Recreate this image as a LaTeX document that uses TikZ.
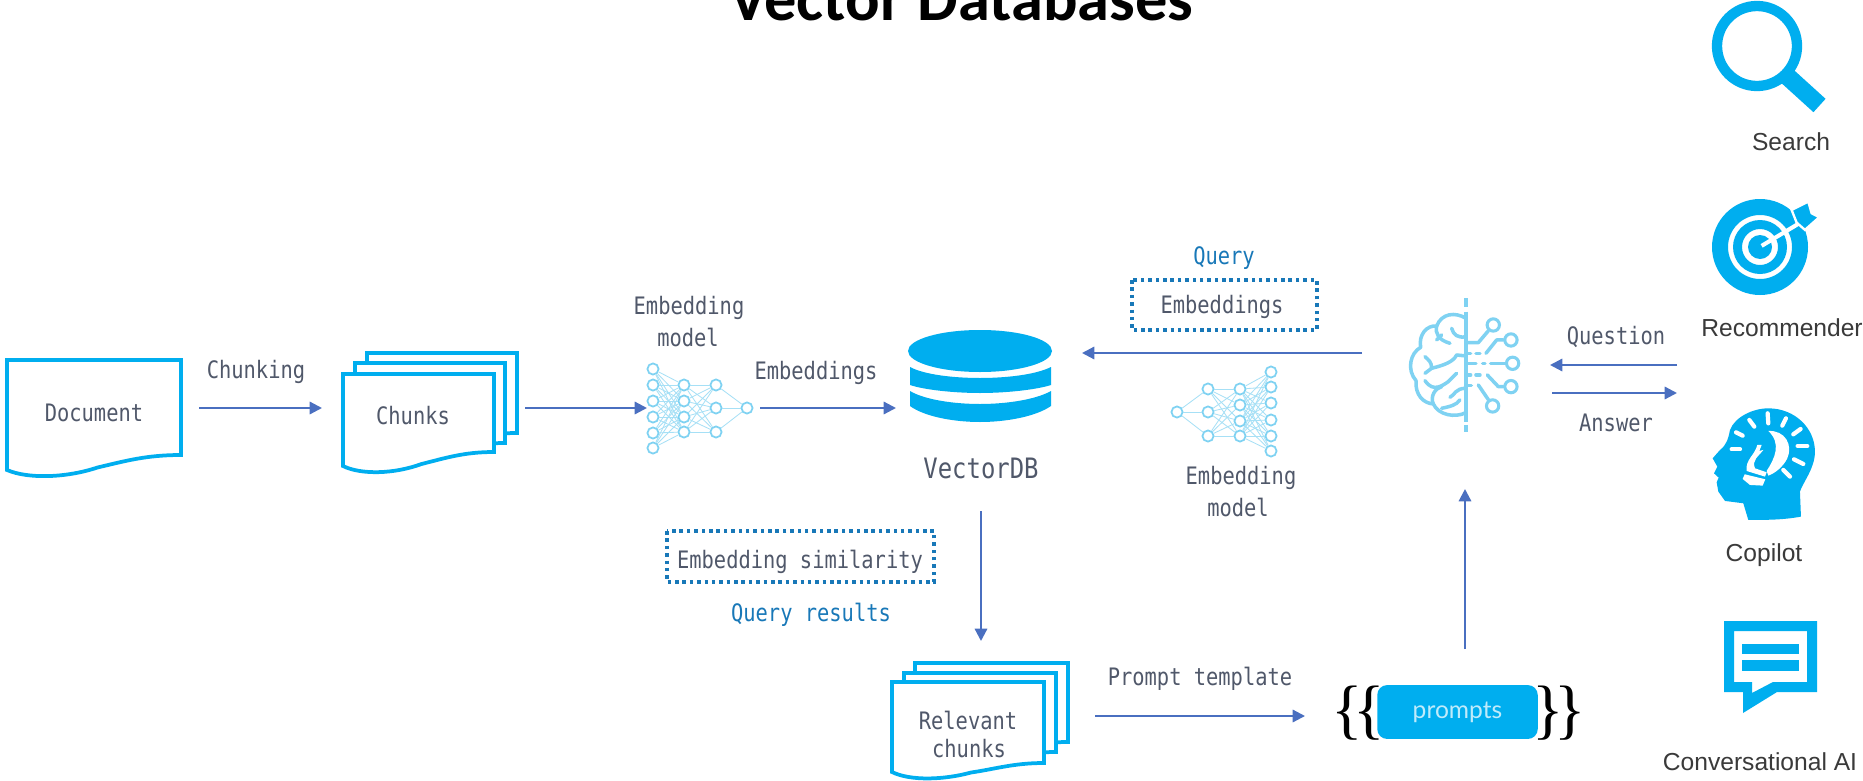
\documentclass[tikz,border=0pt]{standalone}
\usepackage{fontspec}
\usetikzlibrary{arrows.meta}
\setmainfont{Liberation Sans}
\newfontfamily\monof[FakeStretch=0.85]{DejaVu Sans Mono}
\newfontfamily\titlef{Carlito}
\newfontfamily\latof{Lato}
\newfontfamily\bracef{Liberation Serif}
\definecolor{cy}{HTML}{00AEEF}
\definecolor{cyl}{HTML}{7FD2F2}
\definecolor{cye}{HTML}{A6E0F6}
\definecolor{flow}{HTML}{4A6FC0}
\definecolor{qb}{HTML}{1878B8}
\definecolor{txt}{HTML}{50586A}
\definecolor{lab}{HTML}{3A3A3A}
\newcommand{\wavedoc}[5]{% left right top rightbottom leftbottom
  \path[docline] (#1,#3) -- (#2,#3) -- (#2,#4)
    .. controls ({#1+.80*(#2-#1)},#4) and ({#1+.68*(#2-#1)},{#4+6}) .. ({#1+.52*(#2-#1)},{(#4+#5)/2+5})
    .. controls ({#1+.34*(#2-#1)},{#5+8}) and ({#1+.12*(#2-#1)},{#5+9}) .. (#1,#5) -- cycle;}
\tikzset{
  docline/.style={draw=cy,fill=white,line width=3.2pt,line join=miter},
  mono/.style={inner sep=0pt,text=txt,font=\monof\fontsize{20.5}{24}\selectfont},
  qlabel/.style={inner sep=0pt,text=qb,font=\monof\fontsize{20.5}{24}\selectfont},
  applabel/.style={inner sep=0pt,text=lab,font=\fontsize{21}{25}\selectfont},
  flowline/.style={draw=flow,line width=1.9pt,-{Triangle[length=10.5pt,width=10.5pt]}},
  dotbox/.style={draw=qb,line width=3pt,dash pattern=on 3pt off 3.3pt},
  nn/.style={circle,draw=cyl,fill=white,line width=1.5pt,minimum size=9.5pt,inner sep=0pt},
  brainnode/.style={nn,line width=2.6pt,minimum size=10.5pt},
  nnedge/.style={draw=cye,line width=.7pt},
  brainline/.style={draw=cyl,line width=3pt,line cap=round,line join=round},
  icon/.style={fill=cy,draw=none},
}
\begin{document}
\begin{tikzpicture}[x=0.03cm,y=-0.03cm]
\useasboundingbox (0,0) rectangle (1863,781);
\fill[white] (0,0) rectangle (1863,781);
\node[anchor=base,inner sep=0pt,font=\titlef\bfseries\fontsize{55}{60}\selectfont,text=black] (title) at (961.5,20) {Vector Databases};

% Document
\wavedoc{7}{181}{360}{455}{470}
\node[mono] (document) at (94,413) {Document};
% Chunks
\wavedoc{367}{517}{353}{433}{433}
\wavedoc{355}{505}{363}{443}{443}
\wavedoc{343}{494}{374}{452}{466}
\node[mono] (chunks) at (413,416) {Chunks};
\node[mono] (chunking) at (256,372) {Chunking};
\coordinate (docout) at (199,408);
\coordinate (chkin) at (322,408);
\coordinate (chkout) at (525,408);
\coordinate (nn1in) at (647,408);

% Embedding model left
\foreach \n/\y in {1/369,2/385,3/401,4/417,5/433,6/448} \node[nn] (a\n) at (653,\y) {};
\foreach \n/\y in {1/385,2/401,3/417,4/432} \node[nn] (b\n) at (684,\y) {};
\foreach \n/\y in {1/385,2/408,3/432} \node[nn] (c\n) at (716,\y) {};
\node[nn] (d1) at (747,408) {};
\foreach \i in {1,...,6} \foreach \j in {1,...,4} \draw[nnedge] (a\i) -- (b\j);
\foreach \i in {1,...,4} \foreach \j in {1,...,3} \draw[nnedge] (b\i) -- (c\j);
\foreach \j in {1,...,3} \draw[nnedge] (c\j) -- (d1);
\node[mono,align=center] (em1a) at (689,308) {Embedding};
\node[mono] (em1b) at (688,337) {model};
\node[mono] (embs) at (816,373) {Embeddings};
\coordinate (nn1out) at (760,408);
\coordinate (dbin) at (896,408);

% VectorDB
\path[icon] (908,351) arc[x radius=72,y radius=21,start angle=180,end angle=-180];
\path[icon] (910,367) .. controls (925,375) and (955,378) .. (980,378) .. controls (1005,378) and (1035,375) .. (1051,367)
  -- (1051,385) .. controls (1035,390) and (1005,393) .. (980,393) .. controls (955,393) and (925,390) .. (910,385) -- cycle;
\path[icon] (910,391) .. controls (925,400) and (955,404) .. (980,404) .. controls (1005,404) and (1035,400) .. (1051,391)
  -- (1051,406) .. controls (1035,417) and (1005,422) .. (980,422) .. controls (955,422) and (925,417) .. (910,406) -- cycle;
\node[inner sep=0pt,text=txt,font=\monof\fontsize{24}{28}\selectfont] (vdb) at (981,468) {VectorDB};
\coordinate (dbeast) at (1082,353);
\coordinate (dbsouth) at (981,511);

% Query
\node[qlabel] (query) at (1224,258) {Query};
\draw[dotbox] (1132,280) rectangle (1317,330);
\node[mono] (qemb) at (1222,307) {Embeddings};
\coordinate (brainw) at (1362,353);

% Embedding model right
\node[nn] (p1) at (1177,412) {};
\foreach \n/\y in {1/389,2/412,3/436} \node[nn] (q\n) at (1208,\y) {};
\foreach \n/\y in {1/389,2/405,3/421,4/436} \node[nn] (r\n) at (1240,\y) {};
\foreach \n/\y in {1/372,2/387,3/403,4/420,5/436,6/451} \node[nn] (s\n) at (1271,\y) {};
\foreach \j in {1,...,3} \draw[nnedge] (p1) -- (q\j);
\foreach \i in {1,...,3} \foreach \j in {1,...,4} \draw[nnedge] (q\i) -- (r\j);
\foreach \i in {1,...,4} \foreach \j in {1,...,6} \draw[nnedge] (r\i) -- (s\j);
\node[mono] (em2a) at (1241,478) {Embedding};
\node[mono] (em2b) at (1238,507) {model};

% Brain
\begin{scope}[shift={(1400,290)},x=0.01cm,y=-0.01cm]
  \draw[brainline,line cap=butt] (198,25) -- (198,50) (198,65) -- (198,395) (198,405) -- (198,425);
  \draw[brainline] (198,85) .. controls (165,65) and (125,70) .. (110,108) .. controls (80,105) and (55,135) .. (62,172)
    .. controls (30,190) and (20,240) .. (48,272) .. controls (45,315) and (70,340) .. (100,342)
    .. controls (115,375) and (165,385) .. (198,368);
  \draw[brainline] (110,108) .. controls (105,130) and (115,150) .. (150,160);
  \draw[brainline] (155,115) .. controls (160,135) and (175,145) .. (198,140);
  \draw[brainline] (110,150) -- (125,135);
  \draw[brainline] (75,200) .. controls (85,210) and (95,215) .. (95,235) -- (75,250);
  \draw[brainline] (95,235) .. controls (135,225) and (160,215) .. (170,195) -- (198,198);
  \draw[brainline] (75,272) .. controls (100,310) and (130,285) .. (145,275) -- (170,250);
  \draw[brainline] (100,342) .. controls (90,320) and (105,295) .. (125,290);
  \draw[brainline] (150,322) .. controls (165,315) and (165,295) .. (198,295);
  \draw[brainline] (125,355) .. controls (150,350) and (170,345) .. (180,330);
  \node[brainnode] (bn1) at (280,105) {};
  \node[brainnode] (bn2) at (333,150) {};
  \node[brainnode] (bn3) at (338,220) {};
  \node[brainnode] (bn4) at (333,290) {};
  \node[brainnode] (bn5) at (278,348) {};
  \draw[brainline] (200,158) -- (235,158) -- (bn1);
  \draw[brainline] (258,190) -- (290,150) -- (bn2);
  \draw[brainline] (205,190) -- (212,190) (228,190) -- (240,190);
  \draw[brainline] (205,220) -- (228,220) (248,220) -- (255,220) (272,220) -- (bn3);
  \draw[brainline] (205,255) -- (212,255) (228,255) -- (240,255);
  \draw[brainline] (262,255) -- (295,290) -- (bn4);
  \draw[brainline] (235,285) -- (bn5);
  \draw[brainline] (205,287) -- (214,287);
\end{scope}

% Question / Answer
\node[mono] (question) at (1616,337) {Question};
\node[mono] (answer) at (1616,423) {Answer};
\coordinate (qstart) at (1677,365);
\coordinate (qend) at (1550,365);
\coordinate (astart) at (1552,393);
\coordinate (aend) at (1677,393);

% Query results
\draw[dotbox] (667,531) rectangle (934,582);
\node[mono] (sim) at (800,562) {Embedding similarity};
\node[qlabel] (qres) at (811,615) {Query results};

% Relevant chunks
\wavedoc{915}{1068}{663}{742}{742}
\wavedoc{904}{1056}{673}{752}{752}
\wavedoc{892}{1044}{682}{763}{772}
\node[mono] (rel1) at (968,720) {Relevant};
\node[mono] (rel2) at (969,749) {chunks};
\coordinate (chk2top) at (981,641);
\coordinate (chk2out) at (1095,716);
\coordinate (prin) at (1305,716);
\node[mono] (ptemp) at (1200,679) {Prompt template};

% Prompts
\node[fill=cy,rounded corners=8.5pt,minimum width=137pt,minimum height=46pt,inner sep=0pt,text=white!75!cy,font=\latof\fontsize{21}{26}\selectfont] (prompts) at (1457.5,712) {prompts};
\node[inner sep=0pt,text=black,font=\bracef\fontsize{56}{60}\selectfont] (bl) at (1358,713) {\{\kern-8pt\{};
\node[inner sep=0pt,text=black,font=\bracef\fontsize{56}{60}\selectfont] (br) at (1559,713) {\}\kern-8pt\}};
\coordinate (prout) at (1465,649);
\coordinate (brains) at (1465,489);

% Flow arrows
\draw[flowline] (docout) -- (chkin);
\draw[flowline] (chkout) -- (nn1in);
\draw[flowline] (nn1out) -- (dbin);
\draw[flowline] (brainw) -- (dbeast);
\draw[flowline] (qstart) -- (qend);
\draw[flowline] (astart) -- (aend);
\draw[flowline] (dbsouth) -- (chk2top);
\draw[flowline] (chk2out) -- (prin);
\draw[flowline] (prout) -- (brains);

% Search icon
\draw[cy,line width=8.8pt] (1757,46) circle[radius=40];
\draw[cy,line width=15.4pt] (1787,76) -- (1819.5,105.5);
\node[applabel] (search) at (1791,142) {Search};

% Recommender icon
\path[icon,even odd rule] (1760,247) circle[radius=48] (1760,247) circle[radius=32] (1760,247) circle[radius=27] (1760,247) circle[radius=18] (1760,247) circle[radius=12];
\begin{scope}[shift={(1660,0)},x=0.01cm,y=-0.01cm]
  \draw[white,line width=3.5pt] (305,738) -- (415,672);
  \path[icon,draw=white,line width=2pt] (395,630) -- (445,605) -- (455,640) -- (478,652) -- (435,690) -- (410,668) -- cycle;
\end{scope}
\node[applabel] (rec) at (1782,328) {Recommender};

% Copilot icon
\begin{scope}[shift={(1700,395)},x=0.01cm,y=-0.01cm]
  \path[icon] (38,190) -- (60,165) .. controls (80,150) and (85,130) .. (90,105) .. controls (105,65) and (160,40) .. (205,40)
    .. controls (285,40) and (345,100) .. (345,170) .. controls (345,220) and (310,260) .. (300,290)
    -- (303,365) .. controls (250,375) and (200,375) .. (145,375) -- (130,325) -- (75,318) -- (55,290) -- (50,262) -- (56,248) -- (42,235) -- (52,215) -- cycle;
  \path[fill=white] (205,108) .. controls (255,105) and (280,150) .. (262,190) .. controls (250,215) and (225,235) .. (205,242)
    -- (200,228) .. controls (225,190) and (245,145) .. (205,108) -- cycle;
  \path[fill=white] (140,228) .. controls (135,195) and (165,180) .. (172,150) -- (185,150) -- (178,168) -- (190,165) .. controls (175,185) and (155,195) .. (165,220) -- (200,232) -- (195,245) -- cycle;
  \path[fill=white] (134,238) -- (196,253) -- (188,272) -- (150,270) -- (128,252) -- cycle;
  \foreach \xa/\ya/\xb/\yb in {95/163/120/163,108/112/128/122,148/75/163/95,203/55/205/85,258/70/247/92,302/102/280/118,322/153/293/153,310/207/282/193,270/245/250/225}
    \draw[white,line width=3.6pt,line cap=round] (\xa,\ya) -- (\xb,\yb);
\end{scope}
\node[applabel] (copilot) at (1764,555) {Copilot};

% Conversational AI icon
\path[icon,even odd rule] (1724,621) -- (1817,621) -- (1817,692) -- (1777,692) -- (1743,713) -- (1743,692) -- (1724,692) -- cycle
  (1734,631) -- (1807,631) -- (1807,682) -- (1773,682) -- (1752,693) -- (1752,682) -- (1734,682) -- cycle;
\path[icon] (1742,644) rectangle (1799,654);
\path[icon] (1742,660) rectangle (1799,671);
\node[applabel] (conv) at (1760,762) {Conversational AI};
\end{tikzpicture}
\end{document}
